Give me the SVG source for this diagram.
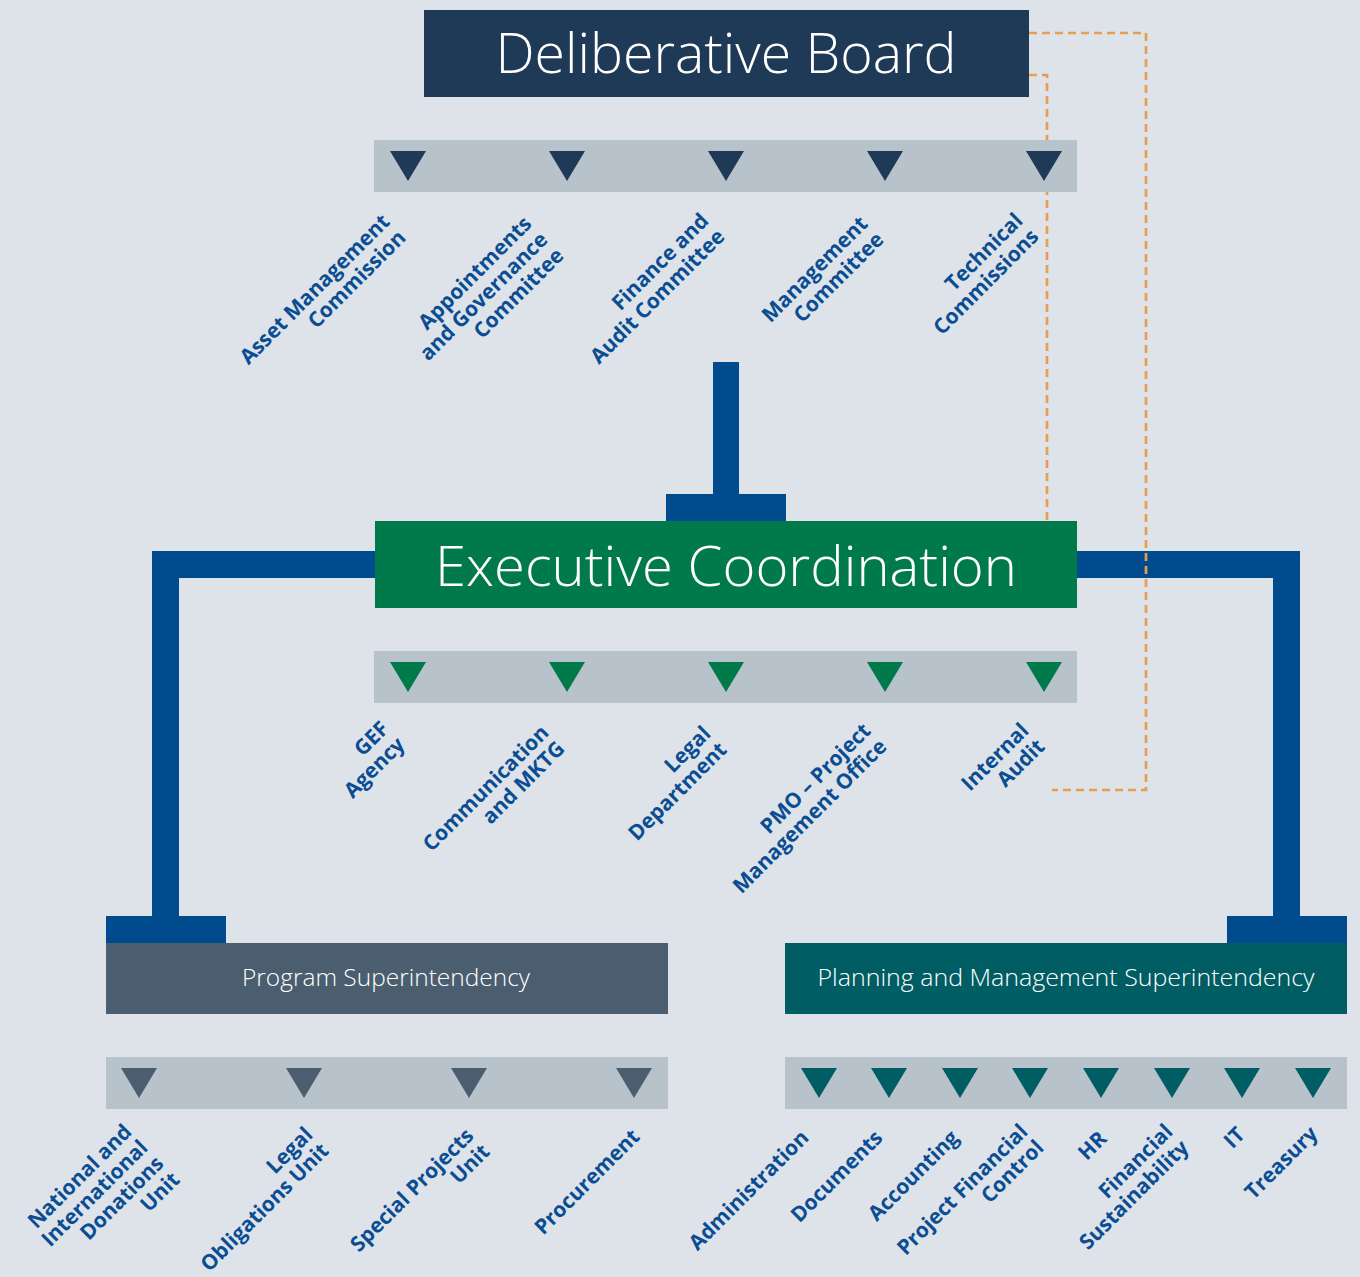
<svg xmlns="http://www.w3.org/2000/svg" width="1360" height="1277" viewBox="0 0 1360 1277">
<style>
.title{font-family:"Open Sans","Liberation Sans",sans-serif;font-weight:300;fill:#ffffff;text-anchor:middle}
.sub{font-family:"Open Sans","Liberation Sans",sans-serif;font-weight:300;fill:#ffffff;text-anchor:middle;font-size:23px}
.lbl{font-family:"Open Sans","Liberation Sans",sans-serif;font-weight:700;fill:#0a4d93;text-anchor:end;font-size:21px}
.bar{fill:#b7c2cb}
.conn{fill:#004b8d}
.dash{fill:none;stroke:#eb9d4e;stroke-width:2.7;stroke-dasharray:8 5}
.tn{fill:#1e3a56}.tg{fill:#007a4b}.ts{fill:#4a5e6f}.tt{fill:#005d63}
</style>
<defs>
<polygon id="tri" points="-18,0 18,0 0,30"/>
</defs>
<rect width="1360" height="1277" fill="#dee3ea"/>
<g id="connectors">
<rect class="conn" x="713" y="362" width="26" height="134"/>
<rect class="conn" x="666" y="494" width="120" height="27"/>
<path class="conn" d="M152,551H375V578H179V917H152Z"/>
<rect class="conn" x="106" y="916" width="120" height="27"/>
<path class="conn" d="M1077,551H1300V917H1273V578H1077Z"/>
<rect class="conn" x="1227" y="916" width="120" height="27"/>
<path class="dash" d="M1029,33H1146V790H1052"/>
<path class="dash" d="M1029,75H1047V521"/>
</g>
<g id="deliberative-board">
<rect x="424" y="10" width="605" height="87" fill="#1e3a56"/>
<text class="title" x="726" y="73" font-size="55" textLength="461" lengthAdjust="spacingAndGlyphs">Deliberative Board</text>
</g>
<g id="board-bar">
<rect class="bar" x="374" y="140" width="703" height="52"/>
<use href="#tri" class="tn" x="408" y="151"/>
<use href="#tri" class="tn" x="567" y="151"/>
<use href="#tri" class="tn" x="726" y="151"/>
<use href="#tri" class="tn" x="885" y="151"/>
<use href="#tri" class="tn" x="1044" y="151"/>
</g>
<g id="asset-management" transform="translate(391,223) rotate(-45)"><text class="lbl"><tspan x="0" y="0">Asset Management</tspan><tspan x="0" dy="22.6">Commission</tspan></text></g>
<g id="appointments" transform="translate(533,225) rotate(-45)"><text class="lbl"><tspan x="0" y="0">Appointments</tspan><tspan x="0" dy="22.6">and Governance</tspan><tspan x="0" dy="22.6">Committee</tspan></text></g>
<g id="finance-audit" transform="translate(710,222) rotate(-45)"><text class="lbl"><tspan x="0" y="0">Finance and</tspan><tspan x="0" dy="22.6">Audit Committee</tspan></text></g>
<g id="management-committee" transform="translate(869,225) rotate(-45)"><text class="lbl"><tspan x="0" y="0">Management</tspan><tspan x="0" dy="22.6">Committee</tspan></text></g>
<g id="technical-commissions" transform="translate(1024,222) rotate(-45)"><text class="lbl"><tspan x="0" y="0">Technical</tspan><tspan x="0" dy="22.6">Commissions</tspan></text></g>
<g id="executive-coordination">
<rect x="375" y="521" width="702" height="87" fill="#007a4b"/>
<text class="title" x="726" y="586" font-size="56" textLength="582" lengthAdjust="spacingAndGlyphs">Executive Coordination</text>
</g>
<g id="executive-bar">
<rect class="bar" x="374" y="651" width="703" height="52"/>
<use href="#tri" class="tg" x="408" y="662"/>
<use href="#tri" class="tg" x="567" y="662"/>
<use href="#tri" class="tg" x="726" y="662"/>
<use href="#tri" class="tg" x="885" y="662"/>
<use href="#tri" class="tg" x="1044" y="662"/>
</g>
<g id="gef-agency" transform="translate(390,730) rotate(-45)"><text class="lbl"><tspan x="0" y="0">GEF</tspan><tspan x="0" dy="22.6">Agency</tspan></text></g>
<g id="communication" transform="translate(550,734) rotate(-45)"><text class="lbl"><tspan x="0" y="0">Communication</tspan><tspan x="0" dy="22.6">and MKTG</tspan></text></g>
<g id="legal-department" transform="translate(712,735) rotate(-45)"><text class="lbl"><tspan x="0" y="0">Legal</tspan><tspan x="0" dy="22.6">Department</tspan></text></g>
<g id="pmo" transform="translate(872,732) rotate(-45)"><text class="lbl"><tspan x="0" y="0">PMO – Project</tspan><tspan x="0" dy="22.6">Management Office</tspan></text></g>
<g id="internal-audit" transform="translate(1030,732) rotate(-45)"><text class="lbl"><tspan x="0" y="0">Internal</tspan><tspan x="0" dy="22.6">Audit</tspan></text></g>
<g id="program-superintendency">
<rect x="106" y="943" width="562" height="71" fill="#4a5e6f"/>
<text class="sub" x="386" y="986" textLength="288" lengthAdjust="spacingAndGlyphs">Program Superintendency</text>
</g>
<g id="planning-superintendency">
<rect x="785" y="943" width="562" height="71" fill="#005d63"/>
<text class="sub" x="1066" y="986" textLength="497" lengthAdjust="spacingAndGlyphs">Planning and Management Superintendency</text>
</g>
<g id="program-bar">
<rect class="bar" x="106" y="1057" width="562" height="52"/>
<use href="#tri" class="ts" x="139" y="1068"/>
<use href="#tri" class="ts" x="304" y="1068"/>
<use href="#tri" class="ts" x="469" y="1068"/>
<use href="#tri" class="ts" x="634" y="1068"/>
</g>
<g id="planning-bar">
<rect class="bar" x="785" y="1057" width="562" height="52"/>
<use href="#tri" class="tt" x="819" y="1068"/>
<use href="#tri" class="tt" x="889" y="1068"/>
<use href="#tri" class="tt" x="960" y="1068"/>
<use href="#tri" class="tt" x="1030" y="1068"/>
<use href="#tri" class="tt" x="1101" y="1068"/>
<use href="#tri" class="tt" x="1172" y="1068"/>
<use href="#tri" class="tt" x="1242" y="1068"/>
<use href="#tri" class="tt" x="1313" y="1068"/>
</g>
<g id="donations-unit" transform="translate(133,1133) rotate(-45)"><text class="lbl"><tspan x="0" y="0">National and</tspan><tspan x="0" dy="22.6">International</tspan><tspan x="0" dy="22.6">Donations</tspan><tspan x="0" dy="22.6">Unit</tspan></text></g>
<g id="legal-obligations" transform="translate(314,1136) rotate(-45)"><text class="lbl"><tspan x="0" y="0">Legal</tspan><tspan x="0" dy="22.6">Obligations Unit</tspan></text></g>
<g id="special-projects" transform="translate(475,1137) rotate(-45)"><text class="lbl"><tspan x="0" y="0">Special Projects</tspan><tspan x="0" dy="22.6">Unit</tspan></text></g>
<g id="procurement" transform="translate(641,1138) rotate(-45)"><text class="lbl">Procurement</text></g>
<g id="administration" transform="translate(810,1139) rotate(-45)"><text class="lbl">Administration</text></g>
<g id="documents" transform="translate(884,1139) rotate(-45)"><text class="lbl">Documents</text></g>
<g id="accounting" transform="translate(960,1139) rotate(-45)"><text class="lbl">Accounting</text></g>
<g id="project-financial-control" transform="translate(1029,1133) rotate(-45)"><text class="lbl"><tspan x="0" y="0">Project Financial</tspan><tspan x="0" dy="22.6">Control</tspan></text></g>
<g id="hr" transform="translate(1108,1140) rotate(-45)"><text class="lbl">HR</text></g>
<g id="financial-sustainability" transform="translate(1174,1133) rotate(-45)"><text class="lbl"><tspan x="0" y="0">Financial</tspan><tspan x="0" dy="22.6">Sustainability</tspan></text></g>
<g id="it" transform="translate(1246,1136) rotate(-45)"><text class="lbl">IT</text></g>
<g id="treasury" transform="translate(1319,1135) rotate(-45)"><text class="lbl">Treasury</text></g>
</svg>
